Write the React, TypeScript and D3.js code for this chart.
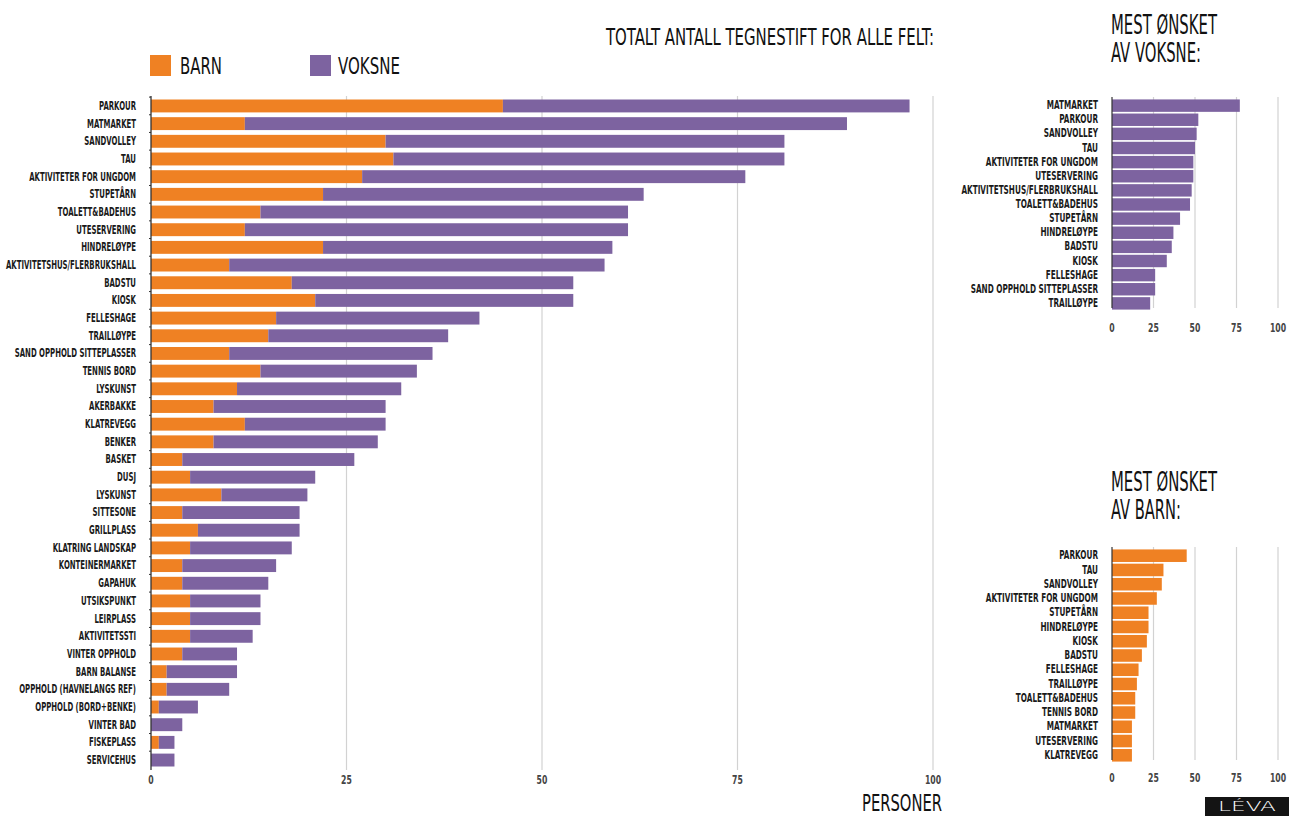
import React from 'react';
import * as d3 from "d3";

// main chart: all fields, children (barn) + adults (voksne) stacked
const categories = [
    "PARKOUR", "MATMARKET", "SANDVOLLEY", "TAU", "AKTIVITETER FOR UNGDOM", "STUPETÅRN",
    "TOALETT&BADEHUS", "UTESERVERING", "HINDRELØYPE", "AKTIVITETSHUS/FLERBRUKSHALL", "BADSTU",
    "KIOSK", "FELLESHAGE", "TRAILLØYPE", "SAND OPPHOLD SITTEPLASSER", "TENNIS BORD", "LYSKUNST",
    "AKERBAKKE", "KLATREVEGG", "BENKER", "BASKET", "DUSJ", "LYSKUNST", "SITTESONE", "GRILLPLASS",
    "KLATRING LANDSKAP", "KONTEINERMARKET", "GAPAHUK", "UTSIKSPUNKT", "LEIRPLASS", "AKTIVITETSSTI",
    "VINTER OPPHOLD", "BARN BALANSE", "OPPHOLD (HAVNELANGS REF)", "OPPHOLD (BORD+BENKE)",
    "VINTER BAD", "FISKEPLASS", "SERVICEHUS",
];
const barn = [45, 12, 30, 31, 27, 22, 14, 12, 22, 10, 18, 21, 16, 15, 10, 14, 11, 8, 12, 8, 4, 5, 9, 4, 6, 5, 4, 4, 5, 5, 5, 4, 2, 2, 1, 0, 1, 0];
const voksne = [52, 77, 51, 50, 49, 41, 47, 49, 37, 48, 36, 33, 26, 23, 26, 20, 21, 22, 18, 21, 22, 16, 11, 15, 13, 13, 12, 11, 9, 9, 8, 7, 9, 8, 5, 4, 2, 3];

// side charts
const topVoksneLabels = [
    "MATMARKET", "PARKOUR", "SANDVOLLEY", "TAU", "AKTIVITETER FOR UNGDOM", "UTESERVERING",
    "AKTIVITETSHUS/FLERBRUKSHALL", "TOALETT&BADEHUS", "STUPETÅRN", "HINDRELØYPE", "BADSTU",
    "KIOSK", "FELLESHAGE", "SAND OPPHOLD SITTEPLASSER", "TRAILLØYPE",
];
const topVoksneValues = [77, 52, 51, 50, 49, 49, 48, 47, 41, 37, 36, 33, 26, 26, 23];

const topBarnLabels = [
    "PARKOUR", "TAU", "SANDVOLLEY", "AKTIVITETER FOR UNGDOM", "STUPETÅRN", "HINDRELØYPE",
    "KIOSK", "BADSTU", "FELLESHAGE", "TRAILLØYPE", "TOALETT&BADEHUS", "TENNIS BORD",
    "MATMARKET", "UTESERVERING", "KLATREVEGG",
];
const topBarnValues = [45, 31, 30, 27, 22, 22, 21, 18, 16, 15, 14, 14, 12, 12, 12];

const xTicks = [0, 25, 50, 75, 100];

const ORANGE = "#EF8123";
const PURPLE = "#7D63A0";
const GRID = "#d2d2d2";
const FONT = "'Liberation Sans Narrow', 'DejaVu Sans Condensed', sans-serif";
const LABEL_SIZE = 11.5;
const LONGEST = "AKTIVITETSHUS/FLERBRUKSHALL";

type SideProps = {
    labels: string[],
    values: number[],
    color: string,
    top: number,
    bottom: number,
    tickY: number,
    title: string[],
    titleY: number,
    squeeze: number,
};

// small "mest ønsket" chart on the right
const SideChart = (props: SideProps) => {
    const xScale = d3.scaleLinear().domain([0, 100]).range([1112, 1278]);
    const yScale = d3.scaleBand<number>()
        .domain(props.labels.map((_, i) => i))
        .range([props.top, props.bottom])
        .paddingInner(0.12)
        .paddingOuter(0.1);

    return (
        <g>
            {props.title.map((t, i) =>
                <text key={t} x={1111} y={props.titleY + i * 27.5} fontFamily={FONT} fontSize={26}
                      fill="#111" textLength={i === 0 ? 106 : (t.length > 8 ? 90 : 70)}
                      lengthAdjust="spacingAndGlyphs">{t}</text>
            )}
            {xTicks.filter(t => t > 0).map(t =>
                <line key={t} x1={xScale(t)} x2={xScale(t)} y1={props.top - 1} y2={props.bottom - 3}
                      stroke={GRID} strokeWidth={1.2}/>
            )}
            {props.values.map((v, i) =>
                <rect key={i} x={xScale(0)} y={yScale(i)} width={xScale(v) - xScale(0)}
                      height={yScale.bandwidth()} fill={props.color}/>
            )}
            <line x1={xScale(0)} x2={xScale(0)} y1={props.top - 1} y2={props.bottom - 3}
                  stroke="#333" strokeWidth={1.2}/>
            {props.labels.map((l, i) =>
                <g key={i} transform={`translate(1098,${(yScale(i) ?? 0) + yScale.bandwidth() / 2 + 3.6}) scale(${props.squeeze},1)`}>
                    <text textAnchor="end" fontFamily={FONT} fontWeight="bold" fontSize={LABEL_SIZE}
                          fill="#1a1a1a">{l}</text>
                </g>
            )}
            {xTicks.map(t =>
                <g key={t} transform={`translate(${xScale(t)},${props.tickY}) scale(0.75,1)`}>
                    <text textAnchor="middle" fontFamily={FONT} fontWeight="bold" fontSize={11.5}
                          fill="#444">{t}</text>
                </g>
            )}
        </g>
    );
};

const App = () => {
    const width = 1289;
    const height = 816;
    const measureRef = React.useRef<SVGTextElement>(null);
    // horizontal squeeze so the longest label fits the reference width, whatever font we got
    const [squeeze, setSqueeze] = React.useState(0.7);

    React.useLayoutEffect(() => {
        if (!measureRef.current) {
            return;
        }
        const w = measureRef.current.getComputedTextLength(); // unaffected by the scale transform
        if (w > 0) {
            setSqueeze(130 / w);
        }
    }, []);

    const xScale = d3.scaleLinear().domain([0, 100]).range([151, 933]);
    const yScale = d3.scaleBand<number>()
        .domain(categories.map((_, i) => i))
        .range([97.2, 768.8])
        .paddingInner(0.27)
        .paddingOuter(0.13);

    // stack barn first, then voksne on top of it
    const stacked = categories.map((name, i) => ({
        name,
        idx: i,
        barn: barn[i],
        voksne: voksne[i],
        total: barn[i] + voksne[i],
    }));

    const bw = yScale.bandwidth();

    return (
        <div style={{position: "absolute", top: 0, left: 0}}>
            <svg width={width} height={height} style={{display: "block", background: "white"}}>
                {/* title + legend */}
                <text x={606} y={45} fontFamily={FONT} fontSize={23} fill="#111"
                      textLength={328} lengthAdjust="spacingAndGlyphs">TOTALT ANTALL TEGNESTIFT FOR ALLE FELT:</text>
                <rect x={150} y={55} width={21} height={21} fill={ORANGE}/>
                <text x={180} y={74} fontFamily={FONT} fontSize={23} fill="#111"
                      textLength={42} lengthAdjust="spacingAndGlyphs">BARN</text>
                <rect x={310} y={55} width={21} height={21} fill={PURPLE}/>
                <text x={338} y={74} fontFamily={FONT} fontSize={23} fill="#111"
                      textLength={62} lengthAdjust="spacingAndGlyphs">VOKSNE</text>

                {/* grid */}
                {xTicks.filter(t => t > 0).map(t =>
                    <line key={t} x1={xScale(t)} x2={xScale(t)} y1={96} y2={770}
                          stroke={GRID} strokeWidth={1.2}/>
                )}

                {/* bars */}
                {stacked.map(d =>
                    <g key={d.idx}>
                        <rect x={xScale(0)} y={yScale(d.idx)} width={xScale(d.barn) - xScale(0)}
                              height={bw} fill={ORANGE}/>
                        <rect x={xScale(d.barn)} y={yScale(d.idx)} width={xScale(d.total) - xScale(d.barn)}
                              height={bw} fill={PURPLE}/>
                    </g>
                )}

                {/* y axis with little ticks between rows */}
                <line x1={xScale(0)} x2={xScale(0)} y1={96} y2={770} stroke="#333" strokeWidth={1.3}/>
                {stacked.map(d =>
                    <line key={d.idx} x1={xScale(0) - 2} x2={xScale(0)}
                          y1={(yScale(d.idx) ?? 0) - 2.4} y2={(yScale(d.idx) ?? 0) - 2.4}
                          stroke="#333" strokeWidth={1}/>
                )}
                {stacked.map(d =>
                    <g key={d.idx} transform={`translate(136,${(yScale(d.idx) ?? 0) + bw / 2 + 3.9}) scale(${squeeze},1)`}>
                        <text ref={d.name === LONGEST ? measureRef : undefined} textAnchor="end"
                              fontFamily={FONT} fontWeight="bold" fontSize={LABEL_SIZE}
                              fill="#1a1a1a">{d.name}</text>
                    </g>
                )}

                {/* x axis labels */}
                {xTicks.map(t =>
                    <g key={t} transform={`translate(${xScale(t)},784) scale(0.75,1)`}>
                        <text textAnchor="middle" fontFamily={FONT} fontWeight="bold" fontSize={11.5}
                              fill="#444">{t}</text>
                    </g>
                )}
                <text x={942} y={811} textAnchor="end" fontFamily={FONT} fontSize={23} fill="#111"
                      textLength={80} lengthAdjust="spacingAndGlyphs">PERSONER</text>

                <SideChart labels={topVoksneLabels} values={topVoksneValues} color={PURPLE}
                           top={98} bottom={311} tickY={332} squeeze={squeeze * 136.5 / 130}
                           title={["MEST ØNSKET", "AV VOKSNE:"]} titleY={34}/>
                <SideChart labels={topBarnLabels} values={topBarnValues} color={ORANGE}
                           top={548} bottom={763} tickY={782} squeeze={squeeze * 136.5 / 130}
                           title={["MEST ØNSKET", "AV BARN:"]} titleY={491}/>

                {/* logo stamp */}
                <rect x={1205} y={797} width={84} height={19} fill="#141414"/>
                <text x={1247} y={811} textAnchor="middle" fontFamily="'DejaVu Sans', sans-serif" fontSize={14}
                      fill="white" fontWeight={300} textLength={58} lengthAdjust="spacingAndGlyphs">LÉVA</text>
            </svg>
        </div>
    );
};

export default App;
